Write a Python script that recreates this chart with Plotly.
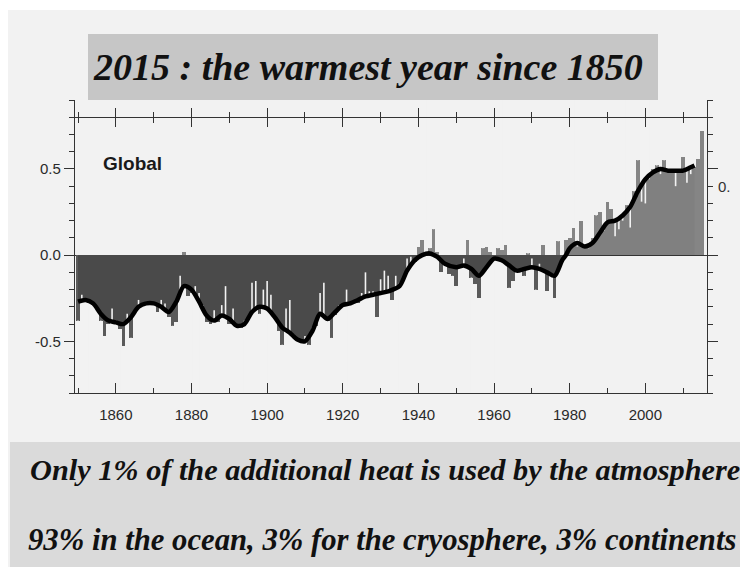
import plotly.graph_objects as go

# ---------------- data ----------------
years = list(range(1850, 2016))
anomaly = [
    -0.38, -0.23, -0.25, -0.28, -0.29, -0.31, -0.38, -0.47, -0.40, -0.31,
    -0.38, -0.43, -0.53, -0.34, -0.48, -0.32, -0.26, -0.29, -0.27, -0.28,
    -0.29, -0.33, -0.26, -0.28, -0.36, -0.41, -0.39, -0.12, 0.02, -0.24,
    -0.22, -0.18, -0.22, -0.29, -0.39, -0.40, -0.32, -0.39, -0.29, -0.18,
    -0.40, -0.31, -0.41, -0.42, -0.38, -0.36, -0.16, -0.15, -0.34, -0.20,
    -0.15, -0.23, -0.36, -0.44, -0.52, -0.31, -0.26, -0.46, -0.49, -0.50,
    -0.47, -0.52, -0.42, -0.41, -0.22, -0.16, -0.38, -0.48, -0.35, -0.29,
    -0.28, -0.20, -0.29, -0.26, -0.28, -0.22, -0.10, -0.21, -0.21, -0.36,
    -0.14, -0.09, -0.12, -0.26, -0.12, -0.16, -0.13, -0.02, -0.01, -0.04,
    0.05, 0.09, 0.02, 0.04, 0.15, 0.02, -0.10, -0.06, -0.11, -0.12,
    -0.18, -0.07, -0.02, 0.09, -0.13, -0.17, -0.25, 0.04, 0.05, 0.02,
    -0.03, 0.04, 0.03, 0.06, -0.19, -0.15, -0.09, -0.09, -0.12, 0.01,
    -0.02, -0.20, -0.05, 0.06, -0.21, -0.11, -0.25, 0.08, 0.00, 0.09,
    0.10, 0.16, 0.05, 0.20, 0.06, 0.04, 0.10, 0.23, 0.25, 0.14,
    0.31, 0.27, 0.11, 0.15, 0.20, 0.29, 0.16, 0.37, 0.55, 0.31,
    0.30, 0.44, 0.50, 0.52, 0.47, 0.55, 0.50, 0.49, 0.40, 0.50,
    0.57, 0.42, 0.47, 0.51, 0.56, 0.72,
]

smooth_years = [1850, 1852, 1854, 1856, 1858, 1860, 1862, 1864, 1866, 1868,
                1870, 1872, 1874, 1876, 1878, 1880, 1882, 1884, 1886, 1888,
                1890, 1892, 1894, 1896, 1898, 1900, 1902, 1904, 1906, 1908,
                1910, 1912, 1914, 1916, 1918, 1920, 1922, 1924, 1926, 1928,
                1930, 1932, 1935, 1937, 1939, 1941, 1943, 1945, 1947, 1950,
                1952, 1954, 1956, 1958, 1960, 1962, 1964, 1966, 1968, 1970,
                1972, 1974, 1976, 1978, 1979, 1980, 1982, 1984, 1986, 1988,
                1990, 1992, 1994, 1996, 1998, 2000, 2002, 2004, 2006, 2008,
                2010, 2012, 2013]
smooth_vals = [-0.27, -0.26, -0.28, -0.34, -0.38, -0.39, -0.40, -0.36, -0.30, -0.28,
               -0.28, -0.30, -0.33, -0.27, -0.18, -0.20, -0.27, -0.35, -0.38, -0.35,
               -0.37, -0.41, -0.40, -0.33, -0.30, -0.31, -0.36, -0.42, -0.45, -0.49,
               -0.50, -0.44, -0.34, -0.37, -0.33, -0.29, -0.28, -0.26, -0.24, -0.23,
               -0.22, -0.21, -0.18, -0.09, -0.03, 0.00, 0.01, -0.01, -0.05, -0.07,
               -0.06, -0.08, -0.12, -0.07, -0.02, -0.03, -0.06, -0.09, -0.08, -0.07,
               -0.08, -0.10, -0.12, -0.03, 0.00, 0.04, 0.07, 0.05, 0.07, 0.13,
               0.19, 0.20, 0.23, 0.28, 0.37, 0.44, 0.48, 0.50, 0.49, 0.49,
               0.49, 0.51, 0.52]
split_year = 1979

ytick_vals = [-0.5, 0.0, 0.5]
ytick_text = ["-0.5", "0.0", "0.5"]

title_text = "2015 : the warmest year since 1850"
line1_text = "Only 1% of the additional heat is used by the atmosphere"
line2_text = "93% in the ocean, 3% for the cryosphere, 3% continents"
region_label = "Global"

# ---------------- styling / layout ----------------
W, H = 748, 567
OFF = 8                      # page body margin in the browser
SL, SR, ST, SB = 75, 707, 100, 393   # wanted plot-area edges on screen
L, R, T, B = SL - OFF, SR - OFF, ST - OFF, SB - OFF
y_lo, y_hi = -0.8, 0.9
x_lo, x_hi = 1849.2, 2016.3
top_line_val = 0.8
BG = "#f2f2f2"
AX = "#333333"


def px(x):
    return (x - SL) / (SR - SL)


def py(y):
    return (SB - y) / (SB - ST)


fig = go.Figure()

# annual bars (0 -> value)
fig.add_trace(go.Bar(
    x=years, y=anomaly, width=1.0,
    marker=dict(color=["#5a5a5a" if v < 0 else "#858585" for v in anomaly],
                line=dict(width=0)),
    hoverinfo="skip", showlegend=False))

# filled area under smoothed curve
neg_x = [yy for yy in smooth_years if yy <= split_year]
neg_y = [v for yy, v in zip(smooth_years, smooth_vals) if yy <= split_year]
pos_x = [yy for yy in smooth_years if yy >= split_year]
pos_y = [v for yy, v in zip(smooth_years, smooth_vals) if yy >= split_year]
fig.add_trace(go.Scatter(x=neg_x, y=neg_y, mode="lines", fill="tozeroy",
                         fillcolor="#4a4a4a", line=dict(width=0, shape="spline", smoothing=0.8),
                         hoverinfo="skip", showlegend=False))
fig.add_trace(go.Scatter(x=pos_x, y=pos_y, mode="lines", fill="tozeroy",
                         fillcolor="#808080", line=dict(width=0, shape="spline", smoothing=0.8),
                         hoverinfo="skip", showlegend=False))

# thin background-coloured strips from each annual value outward
sx, sy = [], []
for yr, v in zip(years, anomaly):
    sx += [yr, yr, None]
    sy += [v, (y_hi if v >= 0 else y_lo), None]
fig.add_trace(go.Scatter(x=sx, y=sy, mode="lines", connectgaps=False,
                         line=dict(color=BG, width=1.6),
                         hoverinfo="skip", showlegend=False))

# smoothed curve
fig.add_trace(go.Scatter(x=smooth_years, y=smooth_vals, mode="lines",
                         line=dict(color="#000000", width=4.5, shape="spline", smoothing=0.8),
                         hoverinfo="skip", showlegend=False))

# invisible traces so the extra top axes are drawn
for ax in ("x2", "x3"):
    fig.add_trace(go.Scatter(x=[years[0]], y=[anomaly[0]], xaxis=ax, yaxis="y",
                             mode="markers", marker=dict(opacity=0),
                             hoverinfo="skip", showlegend=False))

top_pos = (top_line_val - y_lo) / (y_hi - y_lo)
common_x = dict(range=[x_lo, x_hi], showgrid=False, zeroline=False,
                tickmode="linear", tick0=1860, dtick=20)

fig.update_layout(
    width=W, height=H, autosize=False,
    margin=dict(l=L, r=W - R, t=T, b=H - B, pad=0),
    paper_bgcolor=BG, plot_bgcolor=BG,
    barmode="overlay", bargap=0,
    xaxis=dict(**common_x, showline=True, linecolor=AX, linewidth=1.2,
               ticks="inside", ticklen=10, tickwidth=1.2, tickcolor=AX,
               minor=dict(tick0=1850, dtick=10, ticks="inside", ticklen=5,
                          tickwidth=1.2, tickcolor=AX),
               ticklabelstandoff=8,
               tickfont=dict(family="Liberation Sans, Arial", size=15, color="#2a2a2a")),
    xaxis2=dict(**common_x, overlaying="x", anchor="free", position=top_pos, side="top",
                showline=True, linecolor=AX, linewidth=1.2, showticklabels=False,
                ticks="outside", ticklen=9, tickwidth=1.2, tickcolor=AX,
                minor=dict(tick0=1850, dtick=10, ticks="outside", ticklen=5,
                           tickwidth=1.2, tickcolor=AX)),
    xaxis3=dict(**common_x, overlaying="x", anchor="free", position=top_pos, side="top",
                showline=False, showticklabels=False,
                ticks="inside", ticklen=9, tickwidth=1.2, tickcolor=AX,
                minor=dict(tick0=1850, dtick=10, ticks="inside", ticklen=5,
                           tickwidth=1.2, tickcolor=AX)),
    yaxis=dict(range=[y_lo, y_hi], showgrid=False,
               zeroline=True, zerolinecolor=AX, zerolinewidth=1,
               tickmode="array", tickvals=ytick_vals, ticktext=ytick_text,
               showline=True, linecolor=AX, linewidth=1.2, mirror="ticks",
               ticks="outside", ticklen=10, tickwidth=1.2, tickcolor=AX,
               minor=dict(tick0=0, dtick=0.1, ticks="outside", ticklen=5,
                          tickwidth=1.2, tickcolor=AX),
               tickfont=dict(family="Liberation Sans, Arial", size=15, color="#2a2a2a")),
    shapes=[
        # photo's white top border
        dict(type="rect", xref="paper", yref="paper", x0=px(0), x1=px(W + 10), y0=py(10), y1=py(0),
             fillcolor="#ffffff", line=dict(width=0), layer="below"),
        # title box
        dict(type="rect", xref="paper", yref="paper", x0=px(88), x1=px(658), y0=py(100), y1=py(34),
             fillcolor="#c6c6c6", line=dict(width=0), layer="below"),
        # bottom text box
        dict(type="rect", xref="paper", yref="paper", x0=px(10), x1=px(W + 10), y0=py(H + 10), y1=py(442),
             fillcolor="#dadada", line=dict(width=0), layer="below"),
    ],
    annotations=[
        dict(text="<b><i>" + title_text + "</i></b>", xref="paper", yref="paper",
             x=px(368), y=py(67), xanchor="center", yanchor="middle", showarrow=False,
             font=dict(family="Liberation Serif, Times New Roman", size=38, color="#111111")),
        dict(text="<b><i>" + line1_text + "</i></b>", xref="paper", yref="paper",
             x=px(385), y=py(470), xanchor="center", yanchor="middle", showarrow=False,
             font=dict(family="Liberation Serif, Times New Roman", size=30.3, color="#111111")),
        dict(text="<b><i>" + line2_text + "</i></b>", xref="paper", yref="paper",
             x=px(382), y=py(540), xanchor="center", yanchor="middle", showarrow=False,
             font=dict(family="Liberation Serif, Times New Roman", size=30.7, color="#111111")),
        dict(text="<b>" + region_label + "</b>", xref="paper", yref="paper",
             x=px(101), y=py(163), xanchor="left", yanchor="middle", showarrow=False,
             font=dict(family="Liberation Sans, Arial", size=19, color="#1a1a1a")),
        dict(text="0.", xref="paper", yref="paper",
             x=px(716), y=py(186), xanchor="left", yanchor="middle", showarrow=False,
             font=dict(family="Liberation Sans, Arial", size=15, color="#333333")),
    ],
)

fig.write_html("out.html")
